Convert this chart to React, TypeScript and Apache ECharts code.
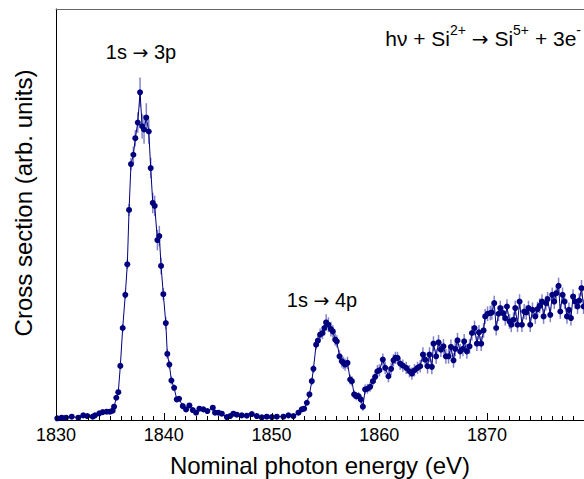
import React, { useEffect, useRef } from "react";
import * as echarts from "echarts";

// Measured points: [photon energy (eV), cross section (arb. units), error]
const measured: [number, number, number][] = [
  [1830.12, 0.0, 0.3], [1830.53, 0.17, 0.3], [1830.93, 0.17, 0.3], [1831.46, 0.41, 0.3],
  [1832.07, 0.17, 0.3], [1832.53, 0.73, 0.3], [1832.91, 0.56, 0.3], [1833.41, 0.41, 0.3],
  [1833.62, 0.73, 0.3], [1834.02, 1.22, 0.3], [1834.34, 1.53, 0.3], [1834.71, 1.63, 0.3],
  [1835.01, 1.63, 0.3], [1835.26, 1.87, 0.4], [1835.39, 2.85, 0.4], [1835.6, 5.04, 0.5],
  [1835.78, 6.4, 0.6], [1835.97, 12.82, 0.8], [1836.19, 22.07, 1.0], [1836.43, 30.17, 1.0],
  [1836.62, 37.64, 1.2], [1836.78, 50.92, 1.5], [1836.96, 62.12, 1.5], [1837.18, 64.4, 2.0],
  [1837.36, 68.44, 2.0], [1837.59, 72.26, 2.5], [1837.8, 79.64, 3.6], [1837.99, 71.36, 3.0],
  [1838.17, 70.56, 3.5], [1838.38, 73.48, 3.5], [1838.61, 70.07, 3.0], [1838.79, 61.14, 2.5],
  [1838.98, 52.63, 2.5], [1839.16, 51.9, 2.5], [1839.41, 43.55, 2.5], [1839.59, 44.53, 2.5],
  [1839.75, 37.23, 2.0], [1839.96, 30.34, 1.5], [1840.19, 23.28, 1.5], [1840.33, 15.74, 1.2],
  [1840.52, 13.14, 1.0], [1840.71, 9.25, 1.0], [1840.96, 7.47, 0.8], [1841.21, 4.62, 0.7],
  [1841.42, 4.79, 0.7], [1841.76, 2.99, 0.6], [1842.07, 2.19, 0.6], [1842.38, 3.16, 0.6],
  [1842.69, 2.02, 0.5], [1843.0, 1.39, 0.5], [1843.31, 2.36, 0.5], [1843.68, 2.19, 0.5],
  [1844.05, 1.78, 0.5], [1844.55, 2.6, 0.5], [1844.76, 1.39, 0.5], [1845.07, 1.39, 0.5],
  [1845.39, 1.14, 0.5], [1845.85, 0.32, 0.5], [1846.16, 0.56, 0.5], [1846.46, 1.14, 0.5],
  [1846.78, 0.9, 0.5], [1847.24, 0.73, 0.5], [1847.71, 0.66, 0.5], [1848.17, 1.05, 0.5],
  [1848.64, 0.56, 0.5], [1849.1, 0.24, 0.5], [1849.56, 0.41, 0.5], [1850.03, 0.32, 0.5],
  [1850.49, 0.41, 0.5], [1851.1, 0.41, 0.5], [1851.57, 0.73, 0.5], [1852.03, 0.56, 0.5],
  [1852.5, 1.39, 0.5], [1852.81, 2.19, 0.6], [1853.03, 2.36, 0.6], [1853.28, 3.82, 0.7],
  [1853.52, 5.84, 0.8], [1853.74, 9.08, 0.9], [1853.89, 12.09, 1.0], [1854.14, 18.0, 1.2],
  [1854.3, 18.98, 1.2], [1854.51, 20.44, 1.5], [1854.73, 20.85, 1.5], [1854.91, 22.07, 1.8],
  [1855.07, 23.43, 2.0], [1855.28, 22.87, 1.8], [1855.51, 21.82, 1.8], [1855.69, 21.24, 1.5],
  [1855.91, 19.22, 1.5], [1856.06, 18.81, 1.5], [1856.31, 15.16, 1.5], [1856.53, 13.94, 1.5],
  [1856.68, 13.55, 1.5], [1856.83, 13.14, 1.5], [1857.05, 13.55, 1.5], [1857.3, 9.49, 1.2],
  [1857.46, 9.08, 1.2], [1857.67, 5.84, 1.0], [1857.86, 5.43, 1.0], [1858.07, 5.43, 1.0],
  [1858.29, 4.62, 1.0], [1858.48, 2.85, 1.0], [1858.69, 7.06, 1.2], [1858.9, 7.23, 1.2],
  [1859.15, 7.71, 1.2], [1859.41, 9.08, 1.2], [1859.62, 10.15, 1.5], [1859.83, 11.51, 1.5],
  [1860.02, 11.75, 1.5], [1860.33, 14.36, 1.5], [1860.55, 12.34, 1.5], [1860.85, 10.29, 1.5],
  [1861.1, 12.09, 1.5], [1861.32, 14.18, 1.5], [1861.5, 14.77, 1.5], [1861.69, 14.77, 1.5],
  [1861.94, 13.38, 1.5], [1862.19, 12.9, 1.5], [1862.5, 12.34, 1.5], [1862.8, 11.51, 1.5],
  [1863.03, 10.95, 1.5], [1863.27, 11.75, 1.5], [1863.55, 12.34, 1.5], [1863.8, 12.73, 1.5],
  [1864.05, 15.57, 1.8], [1864.26, 14.36, 1.8], [1864.48, 12.73, 1.8], [1864.66, 15.57, 1.8],
  [1864.88, 12.58, 1.8], [1865.03, 18.25, 1.8], [1865.28, 15.16, 1.8], [1865.5, 18.56, 1.8],
  [1865.72, 16.79, 1.8], [1865.96, 17.59, 1.8], [1866.18, 15.16, 1.8], [1866.43, 15.16, 1.8],
  [1866.65, 17.45, 1.8], [1866.89, 14.18, 1.8], [1867.05, 16.96, 1.8], [1867.26, 19.05, 1.8],
  [1867.51, 16.37, 1.8], [1867.76, 16.96, 1.8], [1867.88, 18.81, 1.8], [1868.13, 16.37, 1.8],
  [1868.38, 17.59, 1.8], [1868.6, 20.85, 1.8], [1868.84, 22.07, 1.8], [1869.06, 18.25, 1.8],
  [1869.25, 21.0, 1.8], [1869.46, 18.25, 1.8], [1869.68, 21.48, 1.8], [1869.83, 24.89, 1.8],
  [1870.05, 25.55, 1.8], [1870.3, 25.72, 1.8], [1870.45, 25.86, 1.8], [1870.67, 28.15, 1.8],
  [1870.85, 22.07, 1.8], [1871.07, 25.55, 1.8], [1871.23, 26.93, 1.8], [1871.48, 25.72, 1.8],
  [1871.69, 24.5, 1.8], [1871.85, 27.32, 1.8], [1872.09, 23.67, 1.8], [1872.25, 22.87, 1.8],
  [1872.46, 24.09, 1.8], [1872.62, 26.93, 1.8], [1872.83, 22.87, 1.8], [1873.02, 28.54, 1.8],
  [1873.24, 22.87, 1.8], [1873.45, 26.11, 1.8], [1873.64, 25.86, 1.8], [1873.85, 26.93, 1.8],
  [1874.01, 22.87, 1.8], [1874.22, 26.52, 1.8], [1874.48, 24.89, 1.8], [1874.69, 26.69, 1.8],
  [1874.88, 27.49, 1.8], [1875.1, 28.54, 1.8], [1875.25, 24.89, 1.8], [1875.47, 28.15, 1.8],
  [1875.62, 29.12, 1.8], [1875.87, 25.3, 1.8], [1876.05, 30.17, 1.8], [1876.24, 28.54, 1.8],
  [1876.43, 30.58, 1.8], [1876.64, 32.36, 2.0], [1876.8, 26.11, 1.8], [1877.01, 30.17, 1.8],
  [1877.2, 28.54, 1.8], [1877.42, 24.89, 1.8], [1877.6, 26.52, 1.8], [1877.79, 24.5, 1.8],
  [1877.98, 29.76, 1.8], [1878.19, 28.54, 1.8], [1878.4, 27.32, 1.8], [1878.56, 28.78, 1.8],
  [1878.77, 31.8, 2.0], [1878.96, 27.32, 1.8],
];

const xRange = [1830, 1879];
const yRange = [-0.4, 100];
const xTickStep = 10;
const xMinorStep = 1;
const xAxisTitle = "Nominal photon energy (eV)";
const yAxisTitle = "Cross section (arb. units)";

const FONT = "'Liberation Sans', Arial, Helvetica, sans-serif";
const ARROW_FONT = "'DejaVu Sans', sans-serif";
const NAVY = "#00007f";

export default function App() {
  const ref = useRef<HTMLDivElement>(null);
  useEffect(() => {
    if (!ref.current) return;
    const chart = echarts.init(ref.current, undefined, { renderer: "svg" });
    const points = measured.map((d) => [d[0], d[1]]);
    // tick positions along the energy axis (major every 10 eV, minor every 1 eV)
    const ticks: number[][] = [];
    for (let e = xRange[0]; e <= xRange[1]; e += xMinorStep) {
      ticks.push([e, yRange[0], (e - xRange[0]) % xTickStep === 0 ? 1 : 0]);
    }
    const labelRich = {
      t: { fontFamily: FONT, fontSize: 20, fill: "#000" },
      a: { fontFamily: ARROW_FONT, fontSize: 19, fill: "#000" },
    };
    chart.setOption({
      animation: false,
      backgroundColor: "#fff",
      grid: { left: 56, right: 0, top: 9, bottom: 59, outerBoundsMode: "none", containLabel: false },
      xAxis: [
        {
          type: "value",
          min: xRange[0],
          max: xRange[1],
          interval: xTickStep,
          name: xAxisTitle,
          nameLocation: "middle",
          nameGap: 33,
          nameTextStyle: { fontFamily: FONT, fontSize: 24, color: "#000" },
          axisLine: { show: true, onZero: false, lineStyle: { color: "#000", width: 1 } },
          axisTick: { show: false },
          minorTick: { show: false },
          axisLabel: {
            fontFamily: FONT, fontSize: 18, color: "#000", margin: 6,
            showMaxLabel: false,
            formatter: (v: number) => String(v),
          },
          splitLine: { show: false },
        },
        {
          type: "value",
          position: "top",
          min: xRange[0],
          max: xRange[1],
          axisLine: { show: true, onZero: false, lineStyle: { color: "#666", width: 1 } },
          axisTick: { show: false },
          axisLabel: { show: false },
          splitLine: { show: false },
        },
      ],
      yAxis: {
        type: "value",
        min: yRange[0],
        max: yRange[1],
        axisLine: { show: true, onZero: false, lineStyle: { color: "#000", width: 1 } },
        axisTick: { show: false },
        axisLabel: { show: false },
        splitLine: { show: false },
      },
      series: [
        {
          type: "custom",
          data: ticks,
          encode: { x: 0, y: 1 },
          z: 5,
          silent: true,
          renderItem: (params: any, api: any) => {
            const p = api.coord([api.value(0), api.value(1)]);
            const len = api.value(2) ? 7 : 4;
            const x = Math.round(p[0]) + 0.5;
            return {
              type: "line",
              shape: { x1: x, y1: p[1], x2: x, y2: p[1] - len },
              style: { stroke: "#000", lineWidth: 1 },
            };
          },
        },
        {
          type: "custom",
          data: measured,
          encode: { x: 0, y: 1 },
          z: 1,
          renderItem: (params: any, api: any) => {
            const x = api.value(0);
            const v = api.value(1);
            const e = api.value(2);
            const a = api.coord([x, v + e]);
            const b = api.coord([x, v - e]);
            return {
              type: "line",
              shape: { x1: a[0], y1: a[1], x2: b[0], y2: b[1] },
              style: { stroke: "rgba(50,50,170,0.6)", lineWidth: 1.5 },
            };
          },
        },
        {
          type: "line",
          data: points,
          z: 2,
          symbol: "circle",
          symbolSize: 6,
          showAllSymbol: true,
          itemStyle: { color: NAVY },
          lineStyle: { color: NAVY, width: 1 },
        },
      ],
      graphic: [
        {
          type: "text",
          x: 141,
          y: 52,
          style: {
            text: "{t|1s }{a|\u2192}{t| 3p}",
            align: "center", verticalAlign: "middle",
            rich: labelRich,
          },
        },
        {
          type: "text",
          x: 322,
          y: 300,
          style: {
            text: "{t|1s }{a|\u2192}{t| 4p}",
            align: "center", verticalAlign: "middle",
            rich: labelRich,
          },
        },
        {
          type: "text",
          x: 581,
          y: 36,
          style: {
            text: "{n|h\u03bd + Si}{s|2+}{n| }{a|\u2192}{n| Si}{s|5+}{n| + 3e}{s|-}",
            align: "right",
            verticalAlign: "middle",
            fill: "#000",
            rich: {
              n: { fontFamily: FONT, fontSize: 21, lineHeight: 26, verticalAlign: "bottom", fill: "#000" },
              a: { fontFamily: ARROW_FONT, fontSize: 20, lineHeight: 26, verticalAlign: "bottom", fill: "#000" },
              s: { fontFamily: FONT, fontSize: 14, lineHeight: 13, verticalAlign: "top", fill: "#000" },
            },
          },
        },
        {
          type: "text",
          x: 23.5,
          y: 203,
          rotation: Math.PI / 2,
          style: {
            text: yAxisTitle, fontFamily: FONT, fontSize: 24, fill: "#000",
            align: "center", verticalAlign: "middle",
          },
        },
      ],
    });
    return () => chart.dispose();
  }, []);
  return (
    <div
      ref={ref}
      style={{ position: "fixed", left: 0, top: 0, width: 584, height: 479 }}
    />
  );
}
